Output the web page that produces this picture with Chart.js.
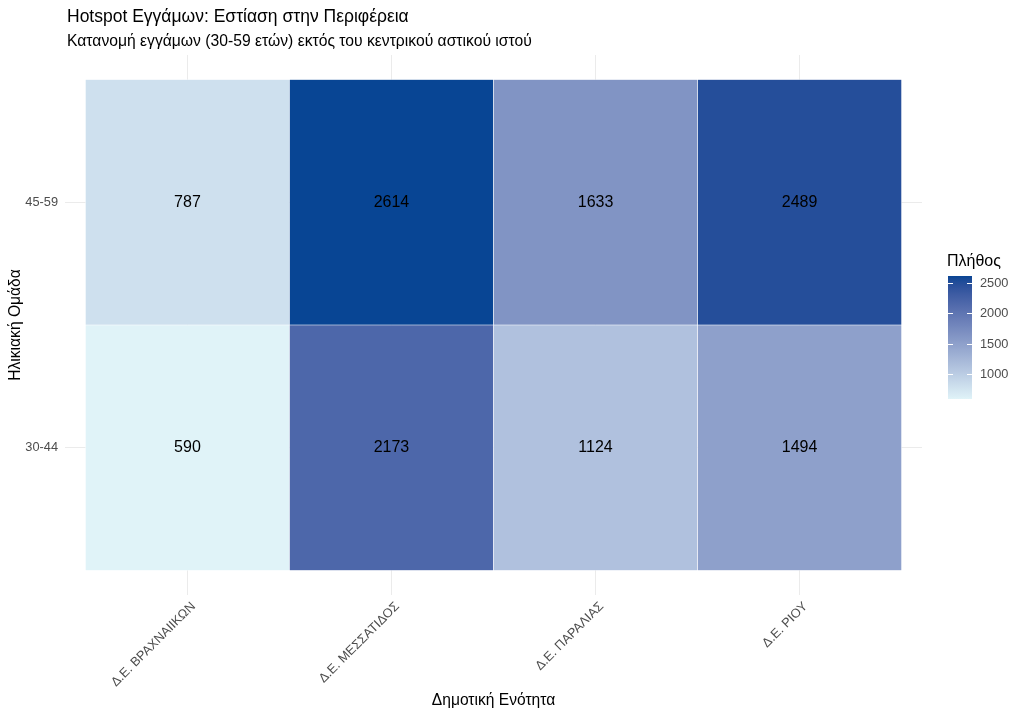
<!DOCTYPE html>
<html><head><meta charset="utf-8">
<script src="https://cdn.jsdelivr.net/npm/chart.js@4.4.1/dist/chart.umd.min.js"></script>
<style>html,body{margin:0;padding:0;background:#fff}#wrap{width:1024px;height:717px}</style>
</head><body><div id="wrap"><canvas id="c" width="1024" height="717"></canvas></div>
<script>
const districts = ['Δ.Ε. ΒΡΑΧΝΑΙΙΚΩΝ', 'Δ.Ε. ΜΕΣΣΑΤΙΔΟΣ', 'Δ.Ε. ΠΑΡΑΛΙΑΣ', 'Δ.Ε. ΡΙΟΥ'];
const ageGroups = ['30-44', '45-59'];
const values3044 = [590, 2173, 1124, 1494];
const values4559 = [787, 2614, 1633, 2489];
const legendTicks = [1000, 1500, 2000, 2500];
const titleText = 'Hotspot Εγγάμων: Εστίαση στην Περιφέρεια';
const subtitleText = 'Κατανομή εγγάμων (30-59 ετών) εκτός του κεντρικού αστικού ιστού';
const legendTitle = 'Πλήθος';
const lowColor = '#e0f3f8';
const highColor = '#084594';

const FONT = '"Liberation Sans", Arial, sans-serif';

// --- Lab colour interpolation (like ggplot2 gradients) ---
function hexToRgb(h){h=h.replace('#','');return [0,2,4].map(i=>parseInt(h.substr(i,2),16));}
function srgbToLin(c){c/=255;return c<=0.04045?c/12.92:Math.pow((c+0.055)/1.055,2.4);}
function linToSrgb(c){c=c<=0.0031308?12.92*c:1.055*Math.pow(c,1/2.4)-0.055;return Math.max(0,Math.min(255,Math.round(c*255)));}
const WHITE=[0.95047,1,1.08883];
function rgbToLab(rgb){
  const [r,g,b]=rgb.map(srgbToLin);
  const X=r*0.4124564+g*0.3575761+b*0.1804375;
  const Y=r*0.2126729+g*0.7151522+b*0.0721750;
  const Z=r*0.0193339+g*0.1191920+b*0.9503041;
  const f=t=>t>0.008856?Math.cbrt(t):(7.787*t+16/116);
  const fx=f(X/WHITE[0]),fy=f(Y/WHITE[1]),fz=f(Z/WHITE[2]);
  return [116*fy-16,500*(fx-fy),200*(fy-fz)];
}
function labToRgb(lab){
  const [L,a,bb]=lab;
  const fy=(L+16)/116,fx=fy+a/500,fz=fy-bb/200;
  const inv=t=>{const t3=t*t*t;return t3>0.008856?t3:(t-16/116)/7.787;};
  const X=inv(fx)*WHITE[0],Y=inv(fy)*WHITE[1],Z=inv(fz)*WHITE[2];
  const r= 3.2404542*X-1.5371385*Y-0.4985314*Z;
  const g=-0.9692660*X+1.8760108*Y+0.0415560*Z;
  const b= 0.0556434*X-0.2040259*Y+1.0572252*Z;
  return [linToSrgb(r),linToSrgb(g),linToSrgb(b)];
}
const labLow=rgbToLab(hexToRgb(lowColor)), labHigh=rgbToLab(hexToRgb(highColor));
const allVals=values3044.concat(values4559);
const vMin=Math.min(...allVals), vMax=Math.max(...allVals);
function colorFor(v){
  const t=Math.max(0,Math.min(1,(v-vMin)/(vMax-vMin)));
  const lab=labLow.map((l,i)=>l+(labHigh[i]-l)*t);
  const [r,g,b]=labToRgb(lab);
  return `rgb(${r},${g},${b})`;
}

function rowData(vals,row){return vals.map((v,i)=>({x:i,y:[row-0.5,row+0.5],v:v}));}

const datasets=[
  {label:ageGroups[0],data:rowData(values3044,0),backgroundColor:values3044.map(colorFor)},
  {label:ageGroups[1],data:rowData(values4559,1),backgroundColor:values4559.map(colorFor)}
].map(d=>Object.assign(d,{grouped:false,barPercentage:1,categoryPercentage:1,borderWidth:0.6,borderColor:'rgba(255,255,255,0.7)',borderSkipped:false}));

const textPlugin={
  id:'textPlugin',
  afterDatasetsDraw(chart){
    const ctx=chart.ctx;
    ctx.save();
    ctx.fillStyle='#000';
    ctx.font='16px '+FONT;
    ctx.textAlign='center';ctx.textBaseline='middle';
    chart.data.datasets.forEach((ds,di)=>{
      const meta=chart.getDatasetMeta(di);
      meta.data.forEach((el,i)=>{
        const p=el.getProps(['x','y','base'],true);
        ctx.fillText(String(ds.data[i].v),p.x,(p.y+p.base)/2);
      });
    });
    ctx.restore();
  },
  afterDraw(chart){
    const ctx=chart.ctx;
    ctx.save();
    ctx.fillStyle='#000';
    ctx.textAlign='left';ctx.textBaseline='alphabetic';
    ctx.font='17.5px '+FONT;
    ctx.fillText(titleText,67,22);
    ctx.font='15.7px '+FONT;
    ctx.fillText(subtitleText,67,46);
    // colour bar legend
    const bx=948,bw=24,top=276,bottom=399;
    const pix=v=>bottom-(v-vMin)/(vMax-vMin)*(bottom-top);
    const grad=ctx.createLinearGradient(0,bottom,0,top);
    for(let k=0;k<=40;k++){const t=k/40;grad.addColorStop(t,colorFor(vMin+t*(vMax-vMin)));}
    ctx.fillStyle=grad;
    ctx.fillRect(bx,top,bw,bottom-top);
    ctx.strokeStyle='#fff';ctx.lineWidth=1;
    ctx.fillStyle='#4d4d4d';ctx.font='12.8px '+FONT;ctx.textBaseline='middle';
    legendTicks.forEach(v=>{
      const y=Math.round(pix(v))+0.5;
      ctx.beginPath();ctx.moveTo(bx,y);ctx.lineTo(bx+5,y);ctx.moveTo(bx+bw-5,y);ctx.lineTo(bx+bw,y);ctx.stroke();
      ctx.fillText(String(v),bx+bw+8,y);
    });
    ctx.fillStyle='#000';ctx.font='16px '+FONT;ctx.textBaseline='alphabetic';
    ctx.fillText(legendTitle,947,266);
    ctx.restore();
  }
};

new Chart(document.getElementById('c'),{
  type:'bar',
  data:{datasets:datasets},
  options:{
    responsive:false,animation:false,
    layout:{padding:{top:55,right:102,bottom:0,left:0}},
    plugins:{legend:{display:false},tooltip:{enabled:false},title:{display:false}},
    scales:{
      x:{
        type:'linear',min:-0.6,max:3.6,offset:false,
        afterBuildTicks(s){s.ticks=districts.map((_,i)=>({value:i}));},
        afterFit(s){s.height=122;},
        ticks:{callback:(v)=>districts[v]??'',maxRotation:45,minRotation:45,color:'#4d4d4d',font:{family:FONT,size:12.8},padding:4,labelOffset:6},
        grid:{color:'#ebebeb',lineWidth:1,drawTicks:false,offset:false},
        border:{display:false},
        title:{display:true,text:'Δημοτική Ενότητα',color:'#000',font:{family:FONT,size:15.6},padding:{top:4,bottom:7}}
      },
      y:{
        type:'linear',min:-0.6,max:1.6,offset:false,
        afterBuildTicks(s){s.ticks=ageGroups.map((_,i)=>({value:i}));},
        afterFit(s){s.width=65;},
        ticks:{callback:(v)=>ageGroups[v]??'',color:'#4d4d4d',font:{family:FONT,size:12.8},padding:7},
        grid:{color:'#ebebeb',lineWidth:1,drawTicks:false,offset:false},
        border:{display:false},
        title:{display:true,text:'Ηλικιακή Ομάδα',color:'#000',font:{family:FONT,size:15.6},padding:{top:6,bottom:0}}
      }
    }
  },
  plugins:[textPlugin]
});
</script></body></html>
